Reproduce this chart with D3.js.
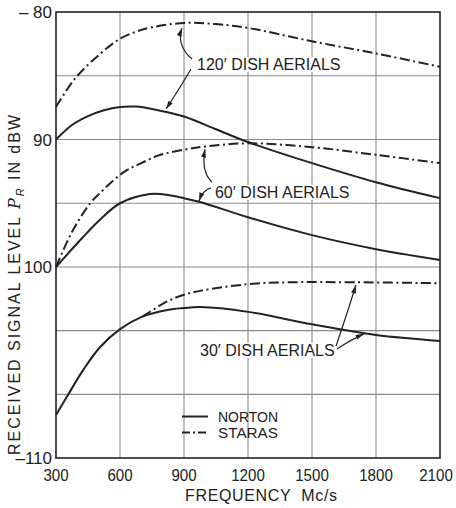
<!DOCTYPE html>
<html><head><meta charset="utf-8">
<script src="https://cdn.jsdelivr.net/npm/d3@7"></script>
<style>body{margin:0;background:#fff}</style></head>
<body><svg id="c" width="456" height="508"></svg>
<script>
// ---- data ----
const freqTicks = [300,600,900,1200,1500,1800,2100];
const yTickValues = [-80,-90,-100,-110];
const yTickLabels = ["\u2013 80","90","100","\u2013110"];
const yGridValues = [-85,-90,-95,-100,-103.33,-106.67];

const n120F = [300,375,450,525,600,675,750,900,1050,1200,1500,1800,2100];
const n120V = [-90,-88.86,-88.16,-87.7,-87.45,-87.42,-87.6,-88.2,-89.2,-90.2,-91.85,-93.35,-94.6];
const s120F = [300,390,506,600,675,750,900,1050,1200,1500,1800,2100];
const s120V = [-87.45,-85.2,-83.3,-82.1,-81.55,-81.2,-80.86,-80.95,-81.25,-82.3,-83.25,-84.3];
const n60F = [300,427,506,600,740,800,900,975,1200,1500,1800,2100];
const n60V = [-100,-97.65,-96.3,-95.0,-94.27,-94.3,-94.6,-94.9,-96.1,-97.5,-98.6,-99.45];
const s60F = [300,375,460,506,614,700,790,900,1000,1200,1500,1800,2100];
const s60V = [-100,-97.25,-95.0,-94.2,-92.6,-91.85,-91.2,-90.8,-90.55,-90.3,-90.6,-91.2,-91.85];
const n30F = [300,356,427,506,600,705,822,900,975,1200,1500,1800,2100];
const n30V = [-107.75,-106.7,-105.4,-104.2,-103.25,-102.6,-102.25,-102.15,-102.1,-102.35,-103.0,-103.56,-103.87];
const s30F = [705,822,900,975,1200,1400,1700,2100];
const s30V = [-102.6,-101.8,-101.45,-101.25,-100.9,-100.8,-100.8,-100.85];

const seriesNames = ["NORTON","STARAS"];
const dishLabels = ["120\u2032 DISH AERIALS","60\u2032 DISH AERIALS","30\u2032 DISH AERIALS"];

// ---- layout ----
const svg = d3.select("#c");
const x = d3.scaleLinear().domain([300,2100]).range([56,440]);
const y = d3.scaleLinear().domain([-80,-100,-110]).range([12,267,458]);
const ink = "#222";
const font = "'Liberation Sans', Arial, sans-serif";

// grid
const g = svg.append("g");
g.selectAll(".vg").data(freqTicks.slice(1,-1)).join("line")
  .attr("x1",d=>x(d)).attr("x2",d=>x(d)).attr("y1",y(-80)).attr("y2",y(-110))
  .attr("stroke","#8a8a8a").attr("stroke-width",1.1);
g.selectAll(".hg").data(yGridValues).join("line")
  .attr("x1",x(300)).attr("x2",x(2100)).attr("y1",d=>y(d)).attr("y2",d=>y(d))
  .attr("stroke","#8a8a8a").attr("stroke-width",1.1);

// curves
const line = d3.line().x(d=>x(d[0])).y(d=>y(d[1])).curve(d3.curveCatmullRom.alpha(0.5));
const zip = (a,b)=>a.map((f,i)=>[f,b[i]]);
const curves = [
  {d:zip(n120F,n120V), dash:null},
  {d:zip(s120F,s120V), dash:"10,3.5,2,3.5"},
  {d:zip(n60F,n60V), dash:null},
  {d:zip(s60F,s60V), dash:"10,3.5,2,3.5"},
  {d:zip(n30F,n30V), dash:null},
  {d:zip(s30F,s30V), dash:"10,3.5,2,3.5"}
];
svg.append("g").selectAll("path").data(curves).join("path")
  .attr("d",c=>line(c.d)).attr("fill","none").attr("stroke",ink)
  .attr("stroke-width",2).attr("stroke-dasharray",c=>c.dash);

// dish labels (data coords)
const labelPos = [[961,-84.1],[1045,-94.12],[975,-104.35]];
const lg = svg.append("g");
dishLabels.forEach((t,i)=>{
  const tx = lg.append("text").attr("x",x(labelPos[i][0])).attr("y",y(labelPos[i][1]))
    .attr("dy","0.36em").attr("font-family",font).attr("font-size",16).attr("fill",ink).text(t);
  const b = tx.node().getBBox();
  lg.insert("rect","text").attr("x",b.x-2).attr("y",b.y+1).attr("width",b.width+4).attr("height",b.height-2).attr("fill","#fff");
});

// arrows
svg.append("defs").append("marker").attr("id","ah").attr("viewBox","0 0 10 6")
  .attr("refX",10).attr("refY",3).attr("markerWidth",9).attr("markerHeight",5)
  .attr("markerUnits","userSpaceOnUse").attr("orient","auto")
  .append("path").attr("d","M0,0 L10,3 L0,6 Z").attr("fill",ink);
const arrows = [
  [[937.5,-83.69],[862.5,-82.59],[890.6,-81.25]],
  [[932.8,-84.47],[881,-85.96],[815.6,-87.61]],
  [[1031,-93.33],[979.7,-92.55],[998.4,-90.75]],
  [[1026.6,-93.8],[989,-93.96],[970.3,-94.82]],
  [[1612.5,-104.14],[1654.7,-102.77],[1706,-100.94]],
  [[1617,-104.29],[1678,-103.82],[1743.75,-103.5]]
];
svg.append("g").selectAll("path").data(arrows).join("path")
  .attr("d",a=>`M${x(a[0][0])},${y(a[0][1])} Q${x(a[1][0])},${y(a[1][1])} ${x(a[2][0])},${y(a[2][1])}`)
  .attr("fill","none").attr("stroke",ink).attr("stroke-width",1.2).attr("marker-end","url(#ah)");

// border
svg.append("rect").attr("x",x(300)).attr("y",y(-80)).attr("width",x(2100)-x(300)).attr("height",y(-110)-y(-80))
  .attr("fill","none").attr("stroke",ink).attr("stroke-width",1.6);

// legend
const legY = [416.5, 432.5];
seriesNames.forEach((s,i)=>{
  svg.append("line").attr("x1",182).attr("x2",208).attr("y1",legY[i]).attr("y2",legY[i])
    .attr("stroke",ink).attr("stroke-width",2).attr("stroke-dasharray",i? "8,3,2,3":null);
  svg.append("text").attr("x",218).attr("y",legY[i]).attr("dy","0.36em").attr("font-family",font)
    .attr("font-size",15).attr("fill",ink).attr("textLength",60).attr("lengthAdjust","spacingAndGlyphs").text(s);
});

// tick labels
svg.append("g").selectAll("text").data(freqTicks).join("text")
  .attr("x",d=>Math.min(x(d), 436)).attr("y",475).attr("dy","0.36em").attr("text-anchor","middle")
  .attr("font-family",font).attr("font-size",16).attr("fill",ink)
  .attr("textLength",d=>String(d).length*8.4).attr("lengthAdjust","spacingAndGlyphs").text(d=>d);
svg.append("g").selectAll("text").data(yTickValues).join("text")
  .attr("x",52).attr("y",d=>y(d)).attr("dy","0.36em").attr("text-anchor","end")
  .attr("font-family",font).attr("font-size",17).attr("fill",ink)
  .text((d,i)=>yTickLabels[i]);

// axis titles
svg.append("text").attr("x",261).attr("y",495).attr("dy","0.36em").attr("text-anchor","middle")
  .attr("font-family",font).attr("font-size",16).attr("fill",ink)
  .attr("textLength",152).attr("lengthAdjust","spacing").attr("xml:space","preserve")
  .text("FREQUENCY  Mc/s");
const yt = svg.append("text").attr("transform","translate(14,285) rotate(-90)").attr("dy","0.36em")
  .attr("text-anchor","middle").attr("font-family",font).attr("font-size",16).attr("fill",ink)
  .attr("textLength",340).attr("lengthAdjust","spacing");
yt.append("tspan").text("RECEIVED SIGNAL LEVEL ");
yt.append("tspan").attr("font-style","italic").attr("font-family","'DejaVu Serif', serif").text("P");
yt.append("tspan").attr("font-size",11).attr("dy",4).attr("font-style","italic").text("R");
yt.append("tspan").attr("dy",-4).text(" IN dBW");
</script></body></html>
